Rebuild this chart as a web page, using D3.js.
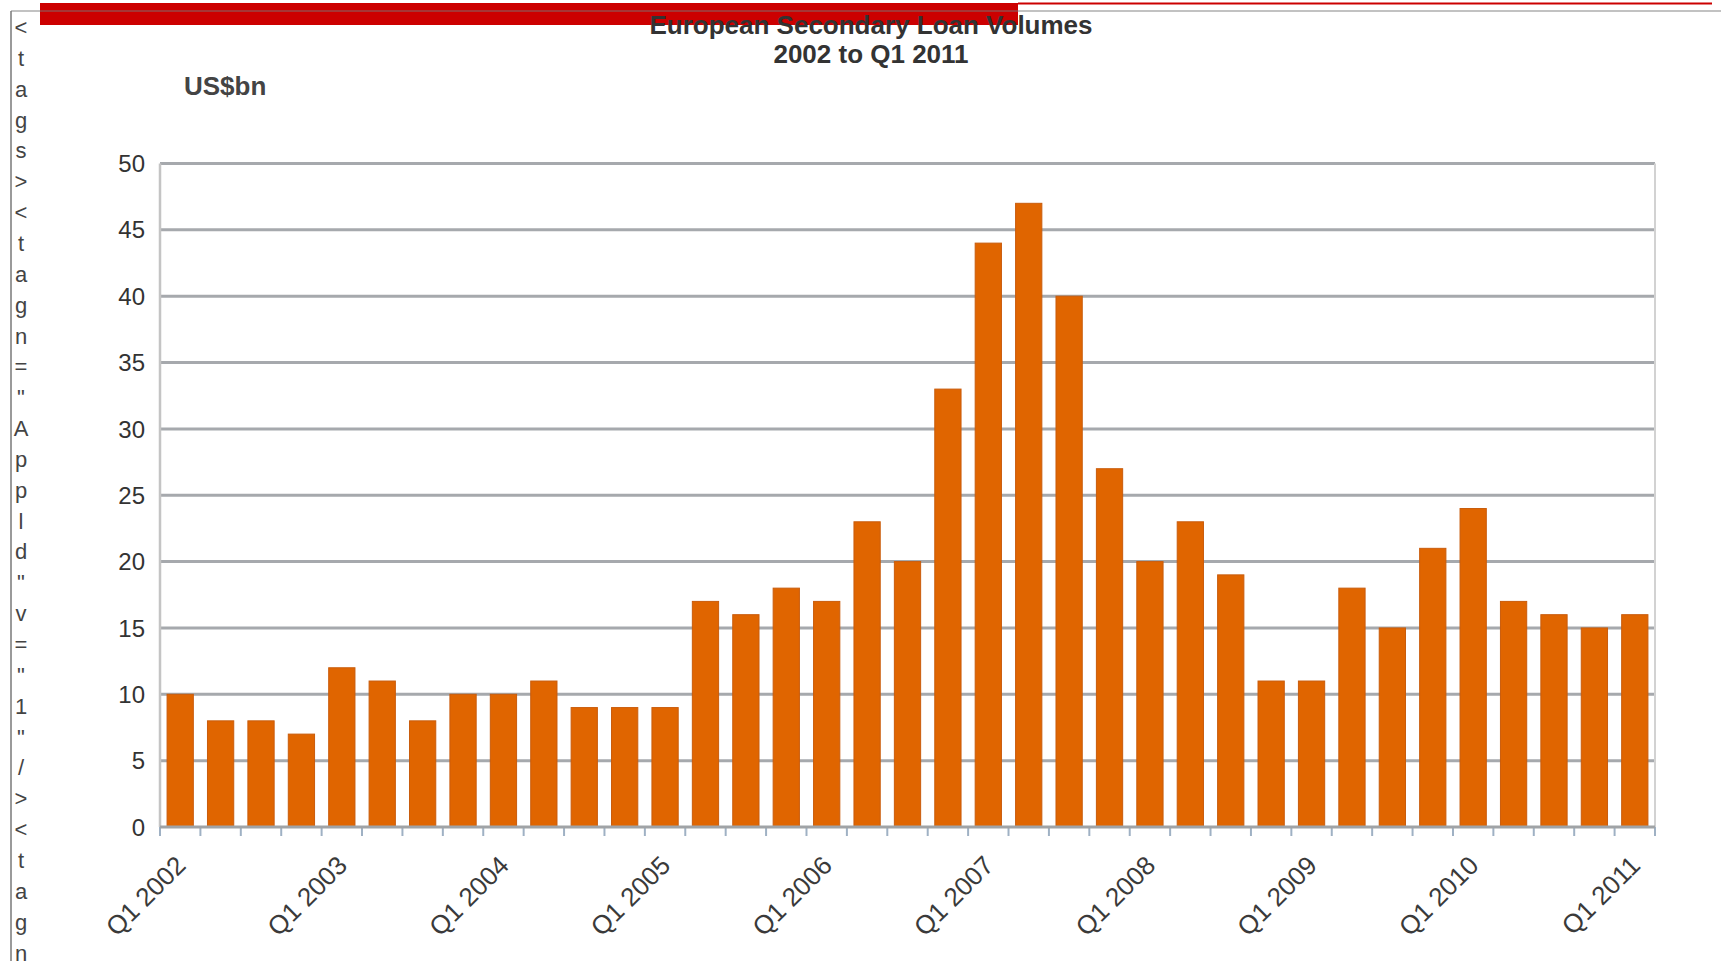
<!DOCTYPE html>
<html><head><meta charset="utf-8">
<script src="https://cdn.jsdelivr.net/npm/d3@7"></script>
<style>body{margin:0;background:#fff;overflow:hidden;} svg{display:block;}</style>
</head><body>
<svg id="c" width="1721" height="961"></svg>
<script>
const categories = [
  "Q1 2002","Q2 2002","Q3 2002","Q4 2002",
  "Q1 2003","Q2 2003","Q3 2003","Q4 2003",
  "Q1 2004","Q2 2004","Q3 2004","Q4 2004",
  "Q1 2005","Q2 2005","Q3 2005","Q4 2005",
  "Q1 2006","Q2 2006","Q3 2006","Q4 2006",
  "Q1 2007","Q2 2007","Q3 2007","Q4 2007",
  "Q1 2008","Q2 2008","Q3 2008","Q4 2008",
  "Q1 2009","Q2 2009","Q3 2009","Q4 2009",
  "Q1 2010","Q2 2010","Q3 2010","Q4 2010",
  "Q1 2011"
];
const volumes = [10,8,8,7, 12,11,8,10, 10,11,9,9, 9,17,16,18, 17,23,20,33, 44,47,40,27, 20,23,19,11, 11,18,15,21, 24,17,16,15, 16];
const yTicks = [0,5,10,15,20,25,30,35,40,45,50];
const xTickLabels = ["Q1 2002","Q1 2003","Q1 2004","Q1 2005","Q1 2006","Q1 2007","Q1 2008","Q1 2009","Q1 2010","Q1 2011"];
const titleLines = ["European Secondary Loan Volumes","2002 to Q1 2011"];
const unitLabel = "US$bn";
const sideText = '<tags><tagn="Appld"v="1"/><tagn';

const svg = d3.select("#c");
const L = 160, R = 1655, T = 163.5, B = 827;
const FONT = "Liberation Sans, Arial, sans-serif";

// page decorations
svg.append("line").attr("x1",11).attr("x2",11).attr("y1",11).attr("y2",961)
  .attr("stroke","#9a9a9a").attr("stroke-width",2);
svg.append("rect").attr("x",40).attr("y",3).attr("width",978).attr("height",22).attr("fill","#cc0000");
svg.append("line").attr("x1",1018).attr("x2",1712).attr("y1",3.5).attr("y2",3.5)
  .attr("stroke","#cc0000").attr("stroke-width",2);
svg.append("line").attr("x1",11).attr("x2",1721).attr("y1",11).attr("y2",11)
  .attr("stroke","#777").attr("stroke-opacity",0.45).attr("stroke-width",2);

svg.append("g").selectAll("text").data(Array.from(sideText)).join("text")
  .attr("x",21).attr("y",(d,i)=>35 + i*30.85)
  .attr("text-anchor","middle")
  .attr("font-family",FONT)
  .attr("font-size",22).attr("fill","#444").text(d=>d);

// title
svg.append("g").selectAll("text").data(titleLines).join("text")
  .attr("x",871).attr("y",(d,i)=>34 + i*29)
  .attr("text-anchor","middle")
  .attr("font-family",FONT)
  .attr("font-weight","bold").attr("font-size",26).attr("fill","#333").text(d=>d);

svg.append("text").attr("x",184).attr("y",95)
  .attr("font-family",FONT)
  .attr("font-weight","bold").attr("font-size",26).attr("fill","#444").text(unitLabel);

const x = d3.scaleBand().domain(categories).range([L,R]).paddingInner(0.35).paddingOuter(0.175);
const y = d3.scaleLinear().domain([0,50]).range([B,T]);

// gridlines
svg.append("g").selectAll("line").data(yTicks.filter(v=>v>0)).join("line")
  .attr("x1",L).attr("x2",R).attr("y1",d=>y(d)).attr("y2",d=>y(d))
  .attr("stroke","#a6a9ad").attr("stroke-width",3);

// right border & left axis
svg.append("line").attr("x1",R).attr("x2",R).attr("y1",T).attr("y2",B)
  .attr("stroke","#d2d2d2").attr("stroke-width",2);
svg.append("line").attr("x1",L).attr("x2",L).attr("y1",T).attr("y2",B)
  .attr("stroke","#c4c4c4").attr("stroke-width",2.5);

// y labels
svg.append("g").selectAll("text").data(yTicks).join("text")
  .attr("x",145).attr("y",d=>y(d)).attr("dy","0.36em")
  .attr("text-anchor","end")
  .attr("font-family",FONT)
  .attr("font-size",24).attr("fill","#333").text(d=>d);

// bars
svg.append("g").selectAll("rect").data(volumes).join("rect")
  .attr("x",(d,i)=>x(categories[i])).attr("width",x.bandwidth())
  .attr("y",d=>y(d)).attr("height",d=>B-y(d))
  .attr("fill","#e06500").attr("stroke","#c95c0c").attr("stroke-width",1);

// bottom axis and ticks
const step = x.step();
const bounds = categories.map(c=>x(c)-(step-x.bandwidth())/2).concat([R]);
svg.append("g").selectAll("line").data(bounds).join("line")
  .attr("x1",d=>d).attr("x2",d=>d).attr("y1",B).attr("y2",B+9)
  .attr("stroke","#9fb1c4").attr("stroke-width",2);
svg.append("line").attr("x1",L).attr("x2",R).attr("y1",B).attr("y2",B)
  .attr("stroke","#a0a3a6").attr("stroke-width",3);

// x labels
svg.append("g").selectAll("text").data(xTickLabels).join("text")
  .attr("transform",d=>`translate(${x(d)+x.bandwidth()/2+7},${B+40}) rotate(-45)`)
  .attr("text-anchor","end")
  .attr("font-family",FONT)
  .attr("font-size",26).attr("fill","#3a3a3a").text(d=>d);
</script>
</body></html>
